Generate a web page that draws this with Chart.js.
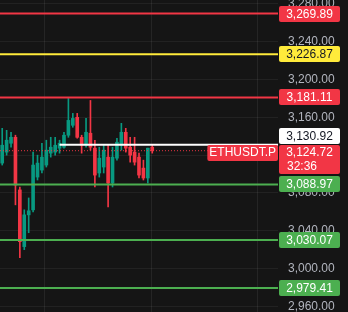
<!DOCTYPE html>
<html><head><meta charset="utf-8">
<script src="https://cdn.jsdelivr.net/npm/chart.js@4.4.1/dist/chart.umd.min.js"></script>
<style>html,body{margin:0;padding:0;background:#151515;overflow:hidden}#wrap{width:348px;height:312px;position:relative}</style>
</head><body><div id="wrap"><canvas id="c"></canvas></div>
<script>
// ---- data ----
const symbol = 'ETHUSDT.P';
const countdown = '32:36';
const opens  = [3111.6,3123.2,3132.6,3138.9,3083.2,3023.2,3056.8,3062.1,3096.8,3104.2,3109.5,3122.1,3123.2,3127.4,3128.4,3141.1,3151.6,3160.0,3138.9,3130.5,3143.2,3127.4,3101.1,3107.4,3117.9,3090.5,3116.8,3130.5,3144.2,3128.4,3123.2,3117.9,3106.3,3095.8,3128.4];
const highs  = [3148.4,3146.3,3144.2,3141.1,3086.3,3062.1,3074.7,3123.2,3120.0,3132.6,3135.8,3138.9,3138.9,3135.8,3144.2,3180.0,3164.2,3164.2,3141.1,3158.9,3177.9,3135.8,3128.4,3130.5,3130.5,3128.4,3137.9,3153.7,3148.4,3138.9,3138.9,3122.1,3114.7,3127.4,3130.5];
const lows   = [3109.5,3120.0,3128.4,3067.4,3011.6,3020.0,3037.9,3060.0,3093.7,3101.1,3107.4,3117.9,3120.0,3122.1,3127.4,3138.9,3149.5,3137.9,3122.1,3128.4,3125.3,3086.3,3096.8,3101.1,3065.3,3086.3,3114.7,3125.3,3123.2,3112.6,3109.5,3095.8,3093.7,3090.5,3122.1];
const closes = [3130.5,3135.8,3138.9,3088.4,3028.4,3056.8,3061.1,3109.5,3111.6,3117.9,3125.3,3128.4,3130.5,3132.6,3141.1,3156.8,3158.9,3138.9,3130.5,3144.2,3128.4,3098.9,3116.8,3125.3,3090.5,3117.9,3133.7,3144.2,3127.4,3120.0,3112.6,3098.9,3095.8,3127.4,3124.72];
const levelValues = [3269.89, 3226.87, 3181.11, 3088.97, 3030.07, 2979.41];
const rayValue = 3130.92;
const rayStartIndex = 13;
const lastPrice = 3124.72;
const yTickValues = [2960, 3000, 3040, 3080, 3120, 3160, 3200, 3240, 3280];

// ---- styles ----
const UP = '#089981', DOWN = '#f23645';
const levelColors = ['#f23645', '#ffeb3b', '#f23645', '#4caf50', '#4caf50', '#4caf50'];
const levelText   = ['#ffffff', '#131722', '#ffffff', '#ffffff', '#ffffff', '#ffffff'];
const X_MIN = -0.5, X_MAX = 62.5;
const Y_MIN = 2954.0, Y_MAX = 3284.2;
const xGridValues = [21.7, 45.8];
const FONT = '12px "Liberation Sans", Arial, sans-serif';

const fmt = v => Number(v).toLocaleString('en-US', {minimumFractionDigits: 2, maximumFractionDigits: 2});
const idx = opens.map((_, i) => i);
const colors = idx.map(i => closes[i] >= opens[i] ? UP : DOWN);

const datasets = [
  {type: 'bar', data: idx.map(i => ({x: i, y: [lows[i], highs[i]]})), backgroundColor: colors, barThickness: 1, grouped: false, order: 5},
  {type: 'bar', data: idx.map(i => ({x: i, y: [opens[i], closes[i]]})), backgroundColor: colors, barThickness: 3, minBarLength: 1, grouped: false, order: 4},
  {type: 'line', data: [{x: X_MIN, y: lastPrice}, {x: X_MAX, y: lastPrice}], borderColor: 'rgba(242,54,69,0.95)', borderWidth: 1, borderDash: [1, 2], pointRadius: 0, order: 3},
  {type: 'line', data: [{x: rayStartIndex, y: rayValue}, {x: X_MAX, y: rayValue}], borderColor: '#ffffff', borderWidth: 2, pointRadius: 0, order: 2},
];
levelValues.forEach((v, k) => datasets.push({type: 'line', data: [{x: X_MIN, y: v}, {x: X_MAX, y: v}], borderColor: levelColors[k], borderWidth: 2, pointRadius: 0, order: 1}));

function rbox(ctx, x, y, w, h, r, fill) {
  ctx.beginPath();
  ctx.moveTo(x + r, y); ctx.lineTo(x + w - r, y); ctx.quadraticCurveTo(x + w, y, x + w, y + r);
  ctx.lineTo(x + w, y + h - r); ctx.quadraticCurveTo(x + w, y + h, x + w - r, y + h);
  ctx.lineTo(x + r, y + h); ctx.quadraticCurveTo(x, y + h, x, y + h - r);
  ctx.lineTo(x, y + r); ctx.quadraticCurveTo(x, y, x + r, y);
  ctx.closePath(); ctx.fillStyle = fill; ctx.fill();
}

const labelsPlugin = {
  id: 'labels',
  afterDraw(chart) {
    const ctx = chart.ctx, ys = chart.scales.y, ca = chart.chartArea;
    const lx = ca.right + 1, lw = 61, cx = lx + lw / 2;
    ctx.save();
    ctx.font = FONT; ctx.textAlign = 'center'; ctx.textBaseline = 'middle';
    const py = ys.getPixelForValue(lastPrice);
    const pTop = Math.round(py) - 6, pH = 29;
    levelValues.forEach((v, k) => {
      const y = Math.round(ys.getPixelForValue(v));
      rbox(ctx, lx, y - 8, lw, 16, 2, levelColors[k]);
      ctx.fillStyle = levelText[k];
      ctx.fillText(fmt(v), cx, y + 0.5);
    });
    let ry = Math.round(ys.getPixelForValue(rayValue));
    if (ry + 8 > pTop - 1) ry = pTop - 1 - 8;
    rbox(ctx, lx, ry - 8, lw, 16, 2, '#ffffff');
    ctx.fillStyle = '#131722';
    ctx.fillText(fmt(rayValue), cx, ry + 0.5);
    rbox(ctx, lx, pTop, lw, pH, 2, '#f23645');
    ctx.fillStyle = '#ffffff';
    ctx.fillText(fmt(lastPrice), cx, pTop + 8);
    ctx.textAlign = 'left';
    ctx.fillText(countdown, lx + 8, pTop + 21.5);
    ctx.textAlign = 'center';
    const sw = ctx.measureText(symbol).width + 4;
    rbox(ctx, ca.right - sw, pTop, sw, 16, 2, '#f23645');
    ctx.fillStyle = '#ffffff';
    ctx.fillText(symbol, ca.right - sw / 2, pTop + 8);
    ctx.restore();
  }
};

new Chart(document.getElementById('c'), {
  type: 'bar',
  data: {datasets},
  options: {
    responsive: true, maintainAspectRatio: false, animation: false,
    layout: {padding: 0},
    plugins: {legend: {display: false}, tooltip: {enabled: false}},
    scales: {
      x: {type: 'linear', min: X_MIN, max: X_MAX, offset: false,
          afterBuildTicks: s => { s.ticks = xGridValues.map(v => ({value: v})); },
          afterFit: s => { s.height = 0; s.paddingLeft = 0; s.paddingRight = 0; s.paddingTop = 0; s.paddingBottom = 0; },
          ticks: {display: false}, grid: {color: 'rgba(255,255,255,0.07)', drawTicks: false}, border: {display: false}},
      y: {position: 'right', min: Y_MIN, max: Y_MAX,
          afterBuildTicks: s => { s.ticks = yTickValues.map(v => ({value: v})); },
          afterFit: s => { s.width = 70; s.paddingTop = 0; s.paddingBottom = 0; s.paddingLeft = 0; s.paddingRight = 0; },
          ticks: {color: '#b2b5be', font: {family: '"Liberation Sans", Arial, sans-serif', size: 12}, padding: 10, callback: v => fmt(v)},
          grid: {color: 'rgba(255,255,255,0.06)', drawTicks: false}, border: {display: false}}
    }
  },
  plugins: [labelsPlugin]
});
</script></body></html>
